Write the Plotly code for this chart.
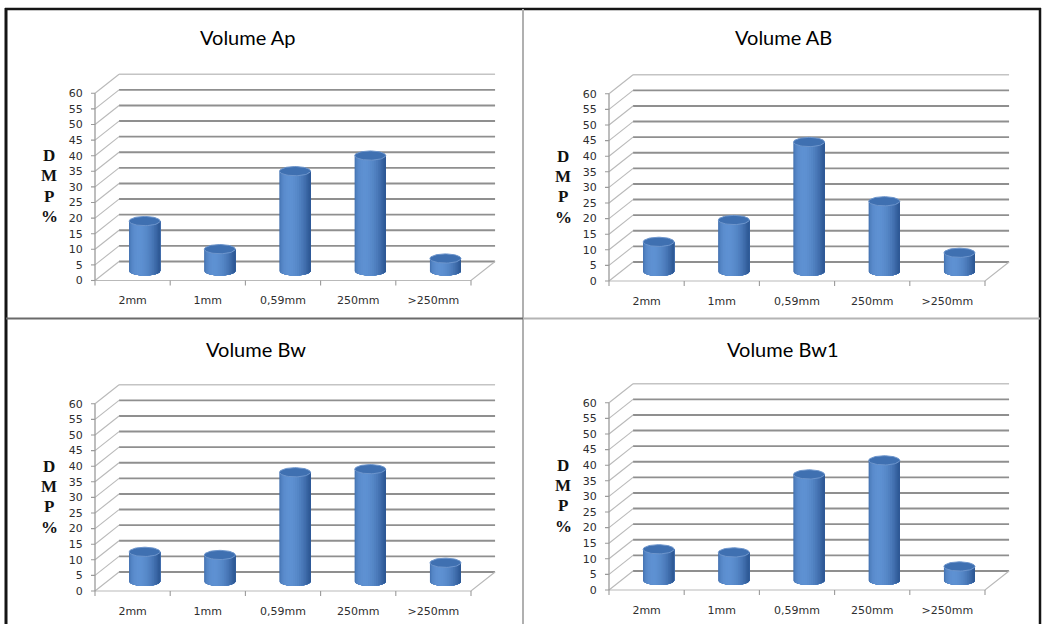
import numpy as np
import plotly.graph_objects as go

# ---- data -----------------------------------------------------------------
categories = ["2mm", "1mm", "0,59mm", "250mm", ">250mm"]
volume_ap = [16, 7, 32, 37, 4]
volume_ab = [9.5, 16.5, 41.5, 22.5, 6]
volume_bw = [9.5, 8.5, 35, 36, 6]
volume_bw1 = [10, 9, 34, 38.5, 4.5]
titles = ["Volume Ap", "Volume AB", "Volume Bw", "Volume Bw1"]
y_ticks = list(range(0, 61, 5))
axis_letters = ["D", "M", "P", "%"]
series = [volume_ap, volume_ab, volume_bw, volume_bw1]

# ---- geometry of the pseudo-3D frame ----------------------------------------
W, H = 1042, 624
CAT_PX = 75.2        # pixels per category
UNIT_PX = 3.12       # pixels per value unit
DX = 0.32            # depth offset (category units)
DY = 6.1             # depth offset (value units)
XL = -0.5 - 6 / CAT_PX
XR = 4.5 + DX + 0.05
YB = -6.5 / UNIT_PX
YT = 60 + DY + 0.6

# front-axis origin of each panel, in page pixels
origins = [(95, 280.5), (609, 281), (95, 591), (609, 590)]
title_pos = [(247, 37), (783, 37), (256, 349), (783, 349)]

R_CYL = 15.5 / CAT_PX   # cylinder half width
E_CYL = 4.6 / UNIT_PX   # ellipse half height
N_STRIPS = 24

DARK = np.array([0x27, 0x50, 0x8c])
LIGHT = np.array([0x5e, 0x91, 0xd2])


def strip_color(theta):
    # simple diffuse shading, light from front-left
    alpha = np.radians(112)
    d = max(0.0, np.cos(theta - alpha))
    k = 0.15 + 0.85 * d ** 1.3
    c = DARK + (LIGHT - DARK) * k
    return "rgb(%d,%d,%d)" % tuple(int(round(v)) for v in c)


fig = go.Figure()
layout_axes = {}
annotations = []

grid_dark = "#8f8f8f"
grid_light = "#b9b9b9"
tick_font = dict(family="DejaVu Sans, Verdana, sans-serif", size=11, color="#2e2e2e")

for p, vals in enumerate(series):
    x0, y0 = origins[p]
    sfx = "" if p == 0 else str(p + 1)
    xref, yref = "x" + sfx, "y" + sfx

    left = x0 + (XL + 0.5) * CAT_PX
    right = x0 + (XR + 0.5) * CAT_PX
    bottom = y0 - YB * UNIT_PX
    top = y0 - YT * UNIT_PX

    layout_axes["xaxis" + sfx] = dict(
        domain=[left / W, right / W], range=[XL, XR], anchor=yref,
        tickvals=list(range(len(categories))), ticktext=categories,
        ticks="outside", ticklen=3, tickcolor="rgba(0,0,0,0)",
        showgrid=False, zeroline=False, showline=False, tickfont=tick_font,
        fixedrange=True,
    )
    layout_axes["yaxis" + sfx] = dict(
        domain=[1 - bottom / H, 1 - top / H], range=[YB, YT], anchor=xref,
        tickvals=y_ticks, ticktext=[str(v) for v in y_ticks],
        ticks="outside", ticklen=3, tickcolor="rgba(0,0,0,0)",
        showgrid=False, zeroline=False, showline=False, tickfont=tick_font,
        fixedrange=True,
    )

    def lines(xs, ys, color, width):
        fig.add_trace(go.Scatter(x=xs, y=ys, mode="lines", xaxis=xref, yaxis=yref,
                                 line=dict(color=color, width=width),
                                 hoverinfo="skip", showlegend=False))

    # back wall gridlines
    bx, by = [], []
    for v in y_ticks[:-1]:
        bx += [-0.5 + DX, 4.5 + DX, None]
        by += [v + DY, v + DY, None]
    lines(bx, by, grid_dark, 1.9)
    lines([-0.5 + DX, 4.5 + DX], [60 + DY, 60 + DY], "#c4c4c4", 1.3)

    # side wall diagonals
    sx, sy = [], []
    for v in y_ticks:
        sx += [-0.5, -0.5 + DX, None]
        sy += [v, v + DY, None]
    lines(sx, sy, grid_light, 1.1)

    # floor: front edge and right diagonal
    lines([-0.5, 4.5, 4.5 + DX], [0, 0, DY], grid_light, 1.2)

    # front value axis and its ticks
    lines([-0.5, -0.5], [0, 60], "#9a9a9a", 1.3)
    tx, ty = [], []
    for v in y_ticks:
        tx += [-0.5 - 4 / CAT_PX, -0.5, None]
        ty += [v, v, None]
    lines(tx, ty, "#9a9a9a", 1.1)
    # category boundary ticks
    cx_, cy_ = [], []
    for b in np.arange(-0.5, 4.6, 1.0):
        cx_ += [b, b, None]
        cy_ += [0, -5 / UNIT_PX, None]
    lines(cx_, cy_, "#9a9a9a", 1.1)

    # cylinders: each shading layer covers from its left edge to the right side,
    # so successive layers overlap without seams
    thetas = np.linspace(np.pi, 0, N_STRIPS + 1)
    for k in range(N_STRIPS):
        th = np.linspace(thetas[k], 0, 40)
        xs, ys = [], []
        for i, v in enumerate(vals):
            cx = i + DX / 2
            base = DY / 2
            topv = v + DY / 2
            bx_ = list(cx + R_CYL * np.cos(th))
            byb = list(base - E_CYL * np.sin(th))
            byt = list(topv - E_CYL * np.sin(th))
            xs += bx_ + bx_[::-1] + [None]
            ys += byb + byt[::-1] + [None]
        col = strip_color((thetas[k] + thetas[k + 1]) / 2)
        fig.add_trace(go.Scatter(x=xs, y=ys, mode="lines", fill="toself",
                                 fillcolor=col, line=dict(width=0),
                                 xaxis=xref, yaxis=yref, hoverinfo="skip",
                                 showlegend=False))

    # cylinder top caps
    ang = np.linspace(0, 2 * np.pi, 60)
    xs, ys = [], []
    for i, v in enumerate(vals):
        cx = i + DX / 2
        topv = v + DY / 2
        xs += list(cx + R_CYL * np.cos(ang)) + [None]
        ys += list(topv + E_CYL * np.sin(ang)) + [None]
    fig.add_trace(go.Scatter(x=xs, y=ys, mode="lines", fill="toself",
                             fillcolor="#3f70b1", line=dict(color="#6d95cc", width=1),
                             xaxis=xref, yaxis=yref, hoverinfo="skip",
                             showlegend=False))

    # vertical "D M P %" label, placed left of the value axis
    for j, letter in enumerate(axis_letters):
        ly = y0 - (40 - j * 6.5) * UNIT_PX
        annotations.append(dict(
            x=(x0 - 46) / W, y=1 - ly / H, xref="paper", yref="paper",
            text="<b>%s</b>" % letter, showarrow=False,
            xanchor="center", yanchor="middle",
            font=dict(family="Liberation Serif, Times New Roman, serif",
                      size=17, color="#111111")))

    # panel title
    tx_, ty_ = title_pos[p]
    annotations.append(dict(
        x=tx_ / W, y=1 - ty_ / H, xref="paper", yref="paper",
        text=titles[p], showarrow=False, xanchor="center", yanchor="middle",
        font=dict(family="Lato, Roboto, sans-serif", size=20, color="#000000")))


def px_line(x0, y0, x1, y1, color, width):
    return dict(type="line", xref="paper", yref="paper",
                x0=x0 / W, y0=1 - y0 / H, x1=x1 / W, y1=1 - y1 / H,
                line=dict(color=color, width=width))


shapes = [
    px_line(5, 9, 1041, 9, "#151515", 2.5),
    px_line(6, 8, 6, 624, "#151515", 3),
    px_line(1040, 8, 1040, 624, "#151515", 2.5),
    px_line(523, 9, 523, 624, "#b0b0b0", 2),
    px_line(6, 318.5, 523, 318.5, "#6a6a6a", 2),
    px_line(523, 318.5, 1040, 318.5, "#b4b4b4", 2),
]

fig.update_layout(
    width=W, height=H,
    margin=dict(l=0, r=0, t=0, b=0),
    paper_bgcolor="white", plot_bgcolor="white",
    showlegend=False, shapes=shapes, annotations=annotations,
    **layout_axes,
)

fig.write_html("out.html")
